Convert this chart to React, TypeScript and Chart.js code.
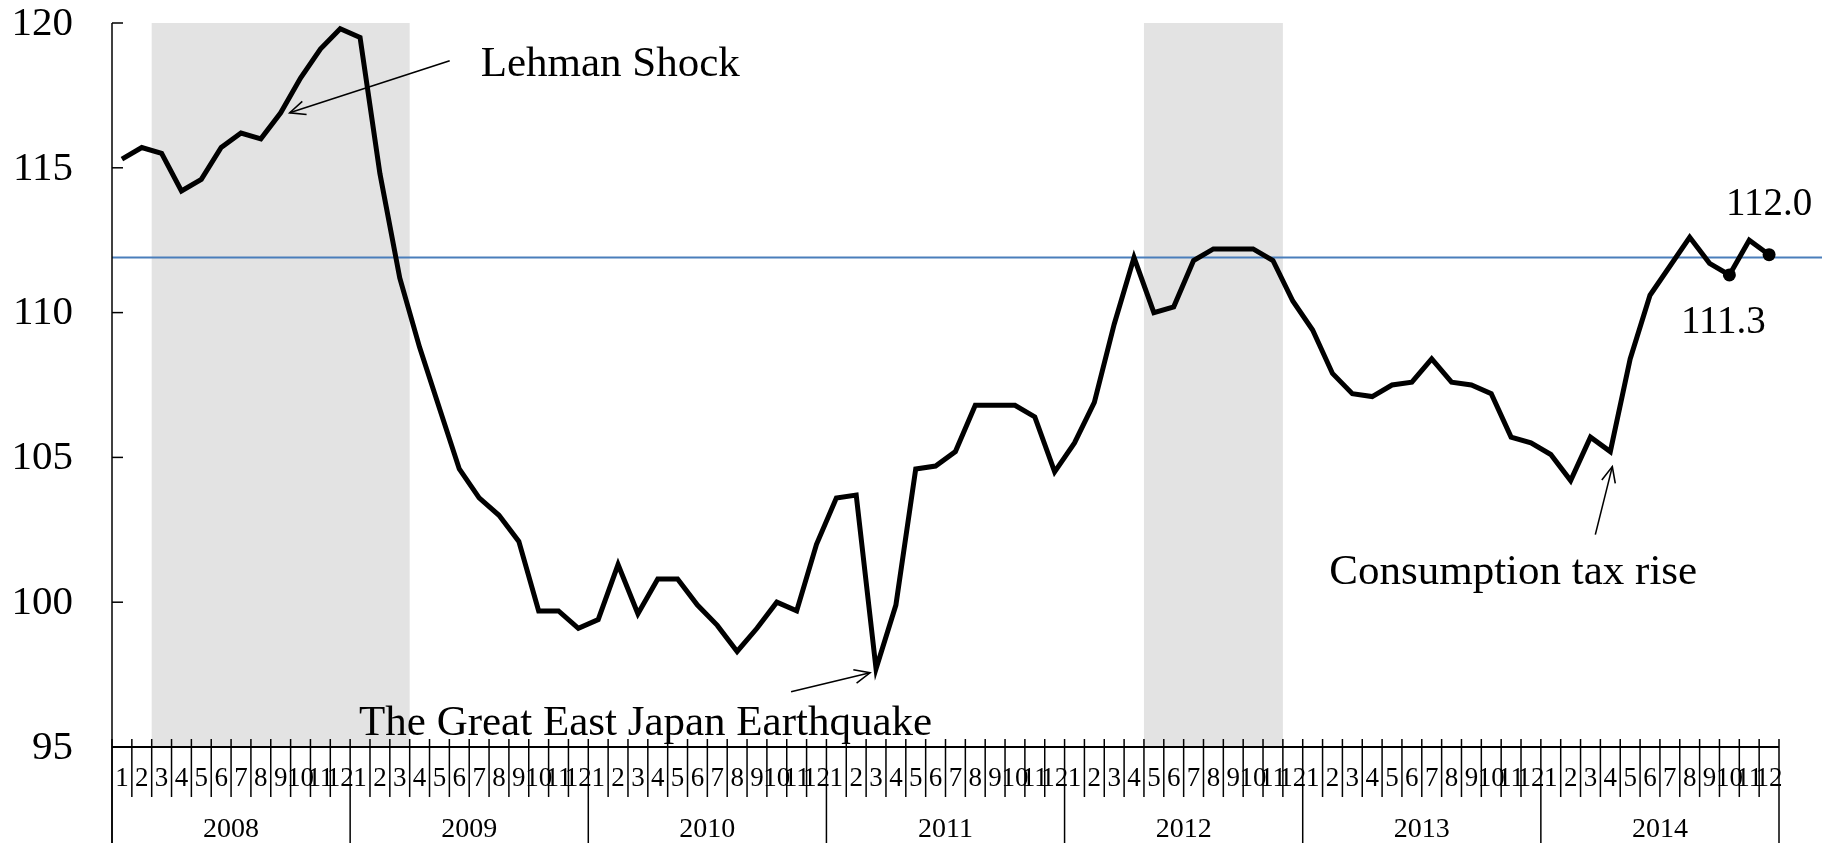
import React, { useEffect, useRef } from "react";
import { Chart, registerables } from "chart.js";

Chart.register(...registerables);

// ---------- data ----------
const YEARS = ["2008", "2009", "2010", "2011", "2012", "2013", "2014"];
const MONTHS = ["1", "2", "3", "4", "5", "6", "7", "8", "9", "10", "11", "12"];

const VALUES_2008 = [115.3, 115.7, 115.5, 114.2, 114.6, 115.7, 116.2, 116.0, 116.9, 118.1, 119.1, 119.8];
const VALUES_2009 = [119.5, 114.8, 111.2, 108.8, 106.7, 104.6, 103.6, 103.0, 102.1, 99.7, 99.7, 99.1];
const VALUES_2010 = [99.4, 101.3, 99.6, 100.8, 100.8, 99.9, 99.2, 98.3, 99.1, 100.0, 99.7, 102.0];
const VALUES_2011 = [103.6, 103.7, 97.7, 99.9, 104.6, 104.7, 105.2, 106.8, 106.8, 106.8, 106.4, 104.5];
const VALUES_2012 = [105.5, 106.9, 109.6, 111.9, 110.0, 110.2, 111.8, 112.2, 112.2, 112.2, 111.8, 110.4];
const VALUES_2013 = [109.4, 107.9, 107.2, 107.1, 107.5, 107.6, 108.4, 107.6, 107.5, 107.2, 105.7, 105.5];
const VALUES_2014 = [105.1, 104.2, 105.7, 105.2, 108.4, 110.6, 111.6, 112.6, 111.7, 111.3, 112.5, 112.0];

const SERIES = [
  ...VALUES_2008, ...VALUES_2009, ...VALUES_2010, ...VALUES_2011,
  ...VALUES_2012, ...VALUES_2013, ...VALUES_2014,
];
const CATEGORIES = YEARS.flatMap((y) => MONTHS.map((m) => `${y}-${m}`));

const Y_TICKS = [95, 100, 105, 110, 115, 120];
const AVERAGE_LEVEL = 111.9;

const SHADED_FROM = ["2008-3", "2012-5"];
const SHADED_TO = ["2009-3", "2012-11"];

const LABELED_POINTS = ["2014-10", "2014-12"];

const ANNOTATION_TEXTS = ["Lehman Shock", "The Great East Japan Earthquake", "Consumption tax rise"];
const ANNOTATION_AT = ["2008-9", "2011-3", "2014-4"];

// ---------- layout / style (pixels) ----------
const FONT = '"Liberation Serif", "Times New Roman", serif';
const ANNOTATION_LAYOUT = [
  { tip: [9, 0], tail: [169, -52], text: [200, -37] },
  { tip: [-6, 4], tail: [-85, 23], text: [-517, 66] },
  { tip: [2, 15], tail: [-15, 83], text: [-281, 132] },
];
const VALUE_LABEL_OFFSET = [
  [-6, 58],
  [0, -40],
];

const decorations = {
  id: "decorations",
  beforeDatasetsDraw(chart: any) {
    const { ctx, chartArea } = chart;
    const xs = chart.scales.x;
    const ys = chart.scales.y;
    const slot = (chartArea.right - chartArea.left) / CATEGORIES.length;
    ctx.save();
    ctx.fillStyle = "#e3e3e3";
    for (let k = 0; k < SHADED_FROM.length; k++) {
      const i0 = CATEGORIES.indexOf(SHADED_FROM[k]);
      const i1 = CATEGORIES.indexOf(SHADED_TO[k]);
      const x0 = xs.getPixelForValue(i0) - slot / 2;
      const x1 = xs.getPixelForValue(i1) + slot / 2;
      const top = ys.getPixelForValue(120);
      ctx.fillRect(x0, top, x1 - x0, chartArea.bottom - top);
    }
    const ya = ys.getPixelForValue(AVERAGE_LEVEL);
    ctx.strokeStyle = "#4a7ebb";
    ctx.lineWidth = 2;
    ctx.beginPath();
    ctx.moveTo(chartArea.left, ya);
    ctx.lineTo(chart.width - 13, ya);
    ctx.stroke();
    ctx.restore();
  },
  afterDatasetsDraw(chart: any) {
    const { ctx, chartArea } = chart;
    const xs = chart.scales.x;
    const ys = chart.scales.y;
    const H = chart.height;
    const left = chartArea.left;
    const right = chartArea.right;
    const bottom = ys.getPixelForValue(95);
    const slot = (right - left) / CATEGORIES.length;
    ctx.save();
    ctx.strokeStyle = "#000";
    ctx.fillStyle = "#000";

    // y axis
    ctx.lineWidth = 1.5;
    ctx.beginPath();
    ctx.moveTo(left, ys.getPixelForValue(120));
    ctx.lineTo(left, H);
    ctx.stroke();
    ctx.font = `41px ${FONT}`;
    ctx.textAlign = "right";
    ctx.textBaseline = "middle";
    for (const v of Y_TICKS) {
      const y = ys.getPixelForValue(v);
      ctx.beginPath();
      ctx.moveTo(left, y);
      ctx.lineTo(left + 11, y);
      ctx.stroke();
      ctx.fillText(String(v), left - 39, y + 1);
    }

    // x axis
    ctx.lineWidth = 2;
    ctx.beginPath();
    ctx.moveTo(left, bottom);
    ctx.lineTo(right, bottom);
    ctx.stroke();
    ctx.lineWidth = 1.5;
    for (let b = 0; b <= CATEGORIES.length; b++) {
      const x = b < CATEGORIES.length ? xs.getPixelForValue(b) - slot / 2 : xs.getPixelForValue(b - 1) + slot / 2;
      ctx.beginPath();
      ctx.moveTo(x, bottom - 8);
      ctx.lineTo(x, b % 12 === 0 ? H : bottom + 50);
      ctx.stroke();
    }
    ctx.textAlign = "center";
    ctx.textBaseline = "middle";
    ctx.font = `27px ${FONT}`;
    CATEGORIES.forEach((c, i) => {
      const m = c.split("-")[1];
      ctx.fillText(m, xs.getPixelForValue(i), bottom + 32);
    });
    ctx.font = `28px ${FONT}`;
    YEARS.forEach((yr, k) => {
      const x0 = xs.getPixelForValue(k * 12) - slot / 2;
      const x1 = xs.getPixelForValue(k * 12 + 11) + slot / 2;
      ctx.fillText(yr, (x0 + x1) / 2, bottom + 83);
    });

    // value labels
    ctx.font = `39px ${FONT}`;
    ctx.textBaseline = "alphabetic";
    LABELED_POINTS.forEach((c, k) => {
      const i = CATEGORIES.indexOf(c);
      const px = xs.getPixelForValue(i);
      const py = ys.getPixelForValue(SERIES[i]);
      ctx.fillText(SERIES[i].toFixed(1), px + VALUE_LABEL_OFFSET[k][0], py + VALUE_LABEL_OFFSET[k][1]);
    });

    // annotations
    ctx.font = `43px ${FONT}`;
    ctx.textAlign = "left";
    ctx.lineWidth = 1.6;
    ANNOTATION_TEXTS.forEach((t, k) => {
      const i = CATEGORIES.indexOf(ANNOTATION_AT[k]);
      const px = xs.getPixelForValue(i);
      const py = ys.getPixelForValue(SERIES[i]);
      const L = ANNOTATION_LAYOUT[k];
      const tx = px + L.tip[0], ty = py + L.tip[1];
      const sx = px + L.tail[0], sy = py + L.tail[1];
      ctx.beginPath();
      ctx.moveTo(sx, sy);
      ctx.lineTo(tx, ty);
      ctx.stroke();
      const ang = Math.atan2(ty - sy, tx - sx);
      const len = 17;
      const spread = 0.42;
      ctx.beginPath();
      ctx.moveTo(tx - len * Math.cos(ang - spread), ty - len * Math.sin(ang - spread));
      ctx.lineTo(tx, ty);
      ctx.lineTo(tx - len * Math.cos(ang + spread), ty - len * Math.sin(ang + spread));
      ctx.stroke();
      ctx.fillText(t, px + L.text[0], py + L.text[1]);
    });
    ctx.restore();
  },
};

export default function App() {
  const ref = useRef<HTMLCanvasElement | null>(null);
  useEffect(() => {
    document.body.style.margin = "0";
    if (!ref.current) return;
    const chart = new Chart(ref.current, {
      type: "line",
      data: {
        labels: CATEGORIES,
        datasets: [
          {
            data: SERIES,
            borderColor: "#000",
            borderWidth: 5,
            tension: 0,
            pointRadius: (c: any) => (LABELED_POINTS.includes(CATEGORIES[c.dataIndex]) ? 6.5 : 0),
            pointBackgroundColor: "#000",
            pointBorderWidth: 0,
            borderJoinStyle: "miter",
            clip: false,
          } as any,
        ],
      },
      options: {
        responsive: false,
        animation: false,
        layout: { padding: { left: 112, right: 56, top: 23, bottom: 96 } },
        plugins: { legend: { display: false }, tooltip: { enabled: false } },
        scales: {
          x: { type: "category", display: false, offset: true },
          y: { display: false, min: 95, max: 120 },
        },
      },
      plugins: [decorations],
    });
    return () => chart.destroy();
  }, []);
  return (
    <div style={{ width: 1835, height: 843, background: "#fff" }}>
      <canvas ref={ref} width={1835} height={843} style={{ display: "block" }} />
    </div>
  );
}
